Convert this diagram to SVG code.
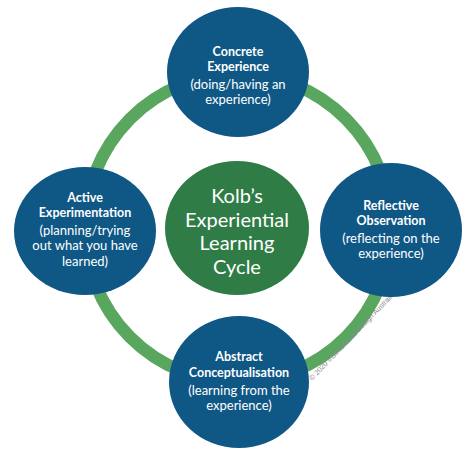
<svg xmlns="http://www.w3.org/2000/svg" width="474" height="458" viewBox="0 0 474 458">
  <style>
    .node { fill: #0f5886; }
    .hub { fill: #2f7c46; }
    .ring { fill: none; stroke: #59a65f; stroke-width: 12.5; }
    .t { font-family: Lato, "Open Sans", "Liberation Sans", sans-serif; fill: #ffffff; text-anchor: middle; }
    .b { font-weight: bold; font-size: 12.5px; }
    .r { font-size: 13px; }
    .c { font-size: 20px; }
    .copy { font-family: "Liberation Sans", Arial, sans-serif; font-size: 7.3px; fill: #8c8c8c; }
  </style>
  <rect width="474" height="458" fill="#ffffff"/>
  <g id="connectors">
    <ellipse class="ring" cx="238" cy="228" rx="153" ry="154"/>
  </g>
  <text class="copy" transform="translate(312 381) rotate(-46)">© 2020 Instructional Design Australia</text>
  <g id="concrete-experience">
    <ellipse class="node" cx="238" cy="72" rx="71" ry="65"/>
    <text class="t b" x="238" y="56">Concrete</text>
    <text class="t b" x="238" y="71">Experience</text>
    <text class="t r" x="238" y="89">(doing/having an</text>
    <text class="t r" x="238" y="104">experience)</text>
  </g>
  <g id="active-experimentation">
    <ellipse class="node" cx="85" cy="231" rx="71" ry="64"/>
    <text class="t b" x="85" y="202">Active</text>
    <text class="t b" x="85" y="217">Experimentation</text>
    <text class="t r" x="85" y="235">(planning/trying</text>
    <text class="t r" x="85" y="250">out what you have</text>
    <text class="t r" x="85" y="266">learned)</text>
  </g>
  <g id="reflective-observation">
    <ellipse class="node" cx="391" cy="230" rx="71" ry="67"/>
    <text class="t b" x="391" y="210">Reflective</text>
    <text class="t b" x="391" y="225">Observation</text>
    <text class="t r" x="391" y="243">(reflecting on the</text>
    <text class="t r" x="391" y="258">experience)</text>
  </g>
  <g id="abstract-conceptualisation">
    <ellipse class="node" cx="239" cy="382" rx="70" ry="66"/>
    <text class="t b" x="239" y="361">Abstract</text>
    <text class="t b" x="239" y="377">Conceptualisation</text>
    <text class="t r" x="239" y="395">(learning from the</text>
    <text class="t r" x="239" y="410">experience)</text>
  </g>
  <g id="kolb-cycle">
    <ellipse class="hub" cx="237" cy="228" rx="72" ry="67"/>
    <text class="t c" x="237" y="203">Kolb’s</text>
    <text class="t c" x="237" y="226.5">Experiential</text>
    <text class="t c" x="237" y="250">Learning</text>
    <text class="t c" x="237" y="273.5">Cycle</text>
  </g>
</svg>
